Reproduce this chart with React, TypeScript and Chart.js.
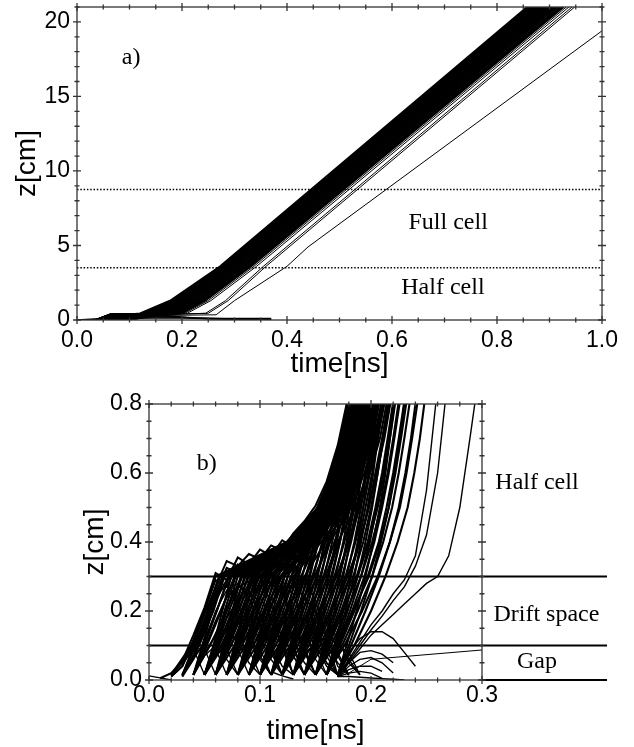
import { useEffect, useRef } from 'react';
import { Chart, registerables } from 'chart.js';

Chart.register(...registerables);

// ================= panel a) =================
const topXRange = [0, 1];
const topYRange = [0, 21];
const topXMajor = [0, 0.2, 0.4, 0.6, 0.8, 1.0];
const topYMajor = [0, 5, 10, 15, 20];
const topXMinorStep = 0.05;
const topYMinorStep = 1;

// dotted cell boundaries (z in cm)
const topCellBoundaries = [3.5, 8.75];

// shared launch phase: sample times, plateau height per trajectory
const topLaunchTimes = [0, 0.035, 0.065, 0.11];
const topPlateau = [
  0.42, 0.3, 0.2, 0.38, 0.1, 0.34, 0.25, 0.4, 0.15, 0.32, 0.05, 0.36, 0.22, 0.28, 0.4,
  0.12, 0.35, 0.18, 0.3, 0.08, 0.38, 0.26, 0.33, 0.15, 0.4, 0.22, 0.3, 0.35, 0.3, 0.32,
];
// each trajectory: time [ns] at which it reaches the z levels below
const topZLevels = [0.45, 1.3, 3.6, 21];
const topBandTimes = [
  [0.12, 0.177, 0.272, 0.857],
  [0.124, 0.18, 0.274, 0.86],
  [0.128, 0.183, 0.276, 0.862],
  [0.131, 0.185, 0.278, 0.865],
  [0.135, 0.188, 0.28, 0.867],
  [0.138, 0.19, 0.282, 0.87],
  [0.142, 0.193, 0.284, 0.872],
  [0.145, 0.196, 0.286, 0.875],
  [0.148, 0.198, 0.289, 0.877],
  [0.152, 0.201, 0.291, 0.88],
  [0.155, 0.204, 0.293, 0.883],
  [0.158, 0.206, 0.295, 0.885],
  [0.161, 0.209, 0.298, 0.888],
  [0.164, 0.212, 0.3, 0.891],
  [0.167, 0.214, 0.302, 0.893],
  [0.17, 0.217, 0.305, 0.896],
  [0.173, 0.22, 0.307, 0.899],
  [0.176, 0.223, 0.31, 0.902],
  [0.179, 0.226, 0.313, 0.905],
  [0.182, 0.229, 0.316, 0.908],
  [0.185, 0.232, 0.318, 0.911],
  [0.188, 0.235, 0.321, 0.914],
  [0.191, 0.238, 0.324, 0.918],
  [0.194, 0.24, 0.327, 0.921],
  [0.197, 0.243, 0.33, 0.924],
  [0.2, 0.245, 0.332, 0.927],
];
const topOutlierTimes = [
  [0.205, 0.25, 0.337, 0.932],
  [0.21, 0.255, 0.342, 0.937],
  [0.245, 0.283, 0.355, 0.943],
  [0.25, 0.288, 0.36, 0.948],
];
const topSlowLine = [
  [0, 0], [0.035, 0], [0.065, 0.3], [0.2, 0.32], [0.265, 0.35], [0.3, 1.3], [0.4, 3.6], [0.44, 4.9], [1.0, 19.4],
];
const topLostLines = [
  [[0, 0], [0.035, 0], [0.065, 0.25], [0.17, 0.3], [0.22, 0.12], [0.3, 0.06], [0.37, 0.04]],
  [[0, 0], [0.04, 0], [0.07, 0.2], [0.19, 0.22], [0.25, 0.08], [0.37, 0.0]],
  [[0, 0], [0.05, 0.1], [0.2, 0.15], [0.28, 0.1], [0.37, 0.1]],
];
const topAnnotations = [
  { text: 'a)', x: 0.103, y: 17.6 },
  { text: 'Full cell', x: 0.707, y: 6.5 },
  { text: 'Half cell', x: 0.697, y: 2.2 },
];

// ================= panel b) =================
const botXRange = [0, 0.3];
const botYRange = [0, 0.8];
const botXMajor = [0, 0.1, 0.2, 0.3];
const botYMajor = [0, 0.2, 0.4, 0.6, 0.8];
const botXMinorStep = 0.02;
const botYMinorStep = 0.05;

// horizontal region boundaries (z in cm) and where they end on the time axis
const botRegionBoundaries = [0.1, 0.3];
const botBoundaryEnd = 0.4126;

// escaping trajectories: time [ns] at which each one reaches the z levels below
const botZLevels = [0.015, 0.1, 0.2, 0.3, 0.4, 0.5, 0.6, 0.7, 0.85];
const botLevelTimes = [
  [0.02, 0.038, 0.05, 0.06, 0.124, 0.152, 0.165, 0.174, 0.183],
  [0.02, 0.041, 0.053, 0.063, 0.127, 0.155, 0.168, 0.177, 0.186],
  [0.02, 0.044, 0.056, 0.066, 0.13, 0.158, 0.171, 0.18, 0.189],
  [0.03, 0.042, 0.054, 0.064, 0.126, 0.154, 0.167, 0.176, 0.185],
  [0.03, 0.045, 0.058, 0.068, 0.129, 0.157, 0.17, 0.179, 0.188],
  [0.03, 0.048, 0.061, 0.072, 0.133, 0.161, 0.174, 0.183, 0.192],
  [0.04, 0.048, 0.057, 0.067, 0.125, 0.153, 0.166, 0.175, 0.184],
  [0.04, 0.05, 0.061, 0.072, 0.128, 0.156, 0.169, 0.178, 0.187],
  [0.04, 0.052, 0.065, 0.077, 0.132, 0.16, 0.173, 0.182, 0.191],
  [0.04, 0.055, 0.07, 0.083, 0.136, 0.164, 0.177, 0.186, 0.195],
  [0.05, 0.058, 0.066, 0.074, 0.126, 0.154, 0.167, 0.176, 0.185],
  [0.05, 0.06, 0.07, 0.08, 0.13, 0.158, 0.171, 0.18, 0.189],
  [0.05, 0.062, 0.075, 0.087, 0.134, 0.162, 0.175, 0.184, 0.193],
  [0.05, 0.065, 0.08, 0.094, 0.138, 0.166, 0.179, 0.188, 0.197],
  [0.06, 0.067, 0.075, 0.083, 0.127, 0.154, 0.167, 0.176, 0.185],
  [0.06, 0.069, 0.079, 0.089, 0.131, 0.158, 0.171, 0.18, 0.189],
  [0.06, 0.071, 0.083, 0.095, 0.135, 0.162, 0.175, 0.184, 0.193],
  [0.06, 0.074, 0.088, 0.102, 0.14, 0.166, 0.179, 0.188, 0.197],
  [0.07, 0.077, 0.085, 0.093, 0.128, 0.155, 0.168, 0.177, 0.186],
  [0.07, 0.079, 0.089, 0.099, 0.132, 0.159, 0.172, 0.181, 0.19],
  [0.07, 0.081, 0.093, 0.105, 0.137, 0.163, 0.176, 0.185, 0.194],
  [0.07, 0.084, 0.098, 0.112, 0.142, 0.167, 0.18, 0.189, 0.198],
  [0.08, 0.087, 0.095, 0.103, 0.129, 0.156, 0.169, 0.178, 0.187],
  [0.08, 0.089, 0.099, 0.109, 0.134, 0.16, 0.173, 0.182, 0.191],
  [0.08, 0.091, 0.103, 0.115, 0.139, 0.164, 0.177, 0.186, 0.195],
  [0.08, 0.094, 0.108, 0.122, 0.145, 0.168, 0.181, 0.19, 0.199],
  [0.09, 0.097, 0.105, 0.113, 0.131, 0.157, 0.17, 0.179, 0.188],
  [0.09, 0.099, 0.109, 0.119, 0.136, 0.161, 0.174, 0.183, 0.192],
  [0.09, 0.101, 0.113, 0.125, 0.142, 0.165, 0.178, 0.187, 0.196],
  [0.09, 0.104, 0.118, 0.132, 0.148, 0.17, 0.182, 0.191, 0.2],
  [0.1, 0.107, 0.115, 0.122, 0.133, 0.158, 0.171, 0.18, 0.189],
  [0.1, 0.109, 0.119, 0.128, 0.139, 0.162, 0.175, 0.184, 0.193],
  [0.1, 0.111, 0.123, 0.134, 0.145, 0.167, 0.179, 0.188, 0.197],
  [0.1, 0.114, 0.128, 0.141, 0.153, 0.172, 0.184, 0.193, 0.202],
  [0.11, 0.117, 0.125, 0.132, 0.139, 0.16, 0.172, 0.181, 0.19],
  [0.11, 0.119, 0.129, 0.138, 0.146, 0.165, 0.177, 0.186, 0.195],
  [0.11, 0.121, 0.133, 0.144, 0.153, 0.17, 0.181, 0.19, 0.199],
  [0.11, 0.124, 0.138, 0.151, 0.161, 0.176, 0.187, 0.196, 0.205],
  [0.12, 0.127, 0.135, 0.142, 0.149, 0.162, 0.174, 0.183, 0.192],
  [0.12, 0.129, 0.139, 0.148, 0.156, 0.168, 0.179, 0.188, 0.197],
  [0.12, 0.131, 0.143, 0.154, 0.163, 0.174, 0.184, 0.193, 0.202],
  [0.12, 0.134, 0.148, 0.161, 0.171, 0.181, 0.19, 0.199, 0.208],
  [0.13, 0.137, 0.145, 0.152, 0.158, 0.165, 0.176, 0.185, 0.194],
  [0.13, 0.139, 0.149, 0.158, 0.165, 0.172, 0.182, 0.191, 0.2],
  [0.13, 0.141, 0.153, 0.164, 0.172, 0.179, 0.188, 0.197, 0.206],
  [0.13, 0.144, 0.158, 0.171, 0.18, 0.188, 0.196, 0.204, 0.213],
  [0.14, 0.147, 0.155, 0.162, 0.168, 0.173, 0.179, 0.187, 0.196],
  [0.14, 0.149, 0.159, 0.168, 0.175, 0.181, 0.187, 0.194, 0.203],
  [0.14, 0.151, 0.163, 0.174, 0.182, 0.189, 0.195, 0.201, 0.21],
  [0.14, 0.154, 0.168, 0.181, 0.19, 0.198, 0.204, 0.21, 0.218],
  [0.15, 0.157, 0.165, 0.172, 0.178, 0.183, 0.188, 0.192, 0.199],
  [0.15, 0.159, 0.169, 0.178, 0.185, 0.191, 0.196, 0.201, 0.208],
  [0.15, 0.161, 0.173, 0.184, 0.193, 0.2, 0.206, 0.211, 0.218],
  [0.15, 0.164, 0.178, 0.191, 0.201, 0.209, 0.215, 0.22, 0.227],
  [0.16, 0.167, 0.175, 0.182, 0.188, 0.193, 0.198, 0.202, 0.209],
  [0.16, 0.169, 0.179, 0.188, 0.195, 0.201, 0.206, 0.211, 0.218],
  [0.16, 0.171, 0.183, 0.194, 0.203, 0.21, 0.216, 0.221, 0.228],
  [0.16, 0.174, 0.188, 0.201, 0.211, 0.219, 0.225, 0.23, 0.237],
  [0.17, 0.178, 0.187, 0.195, 0.202, 0.208, 0.213, 0.217, 0.223],
  [0.17, 0.18, 0.191, 0.201, 0.209, 0.216, 0.221, 0.226, 0.232],
  [0.17, 0.182, 0.195, 0.207, 0.217, 0.225, 0.231, 0.236, 0.242],
  [0.17, 0.185, 0.2, 0.213, 0.224, 0.233, 0.239, 0.244, 0.25],
  // second, more spread family
  [0.05, 0.059, 0.068, 0.078, 0.128, 0.156, 0.169, 0.178, 0.187],
  [0.05, 0.063, 0.077, 0.09, 0.14, 0.168, 0.181, 0.19, 0.199],
  [0.05, 0.061, 0.072, 0.084, 0.133, 0.16, 0.173, 0.182, 0.191],
  [0.05, 0.067, 0.084, 0.1, 0.145, 0.172, 0.185, 0.194, 0.203],
  [0.06, 0.068, 0.077, 0.086, 0.129, 0.157, 0.17, 0.179, 0.188],
  [0.06, 0.072, 0.085, 0.098, 0.141, 0.169, 0.182, 0.191, 0.2],
  [0.06, 0.07, 0.081, 0.092, 0.135, 0.162, 0.175, 0.184, 0.193],
  [0.06, 0.077, 0.094, 0.11, 0.148, 0.174, 0.187, 0.196, 0.205],
  [0.07, 0.078, 0.087, 0.096, 0.13, 0.158, 0.171, 0.18, 0.189],
  [0.07, 0.082, 0.095, 0.108, 0.143, 0.17, 0.183, 0.192, 0.201],
  [0.07, 0.08, 0.091, 0.102, 0.136, 0.164, 0.177, 0.186, 0.195],
  [0.07, 0.087, 0.104, 0.12, 0.151, 0.176, 0.189, 0.198, 0.207],
  [0.08, 0.088, 0.097, 0.106, 0.132, 0.159, 0.172, 0.181, 0.19],
  [0.08, 0.092, 0.105, 0.118, 0.146, 0.171, 0.184, 0.193, 0.202],
  [0.08, 0.09, 0.101, 0.112, 0.139, 0.165, 0.178, 0.187, 0.196],
  [0.08, 0.097, 0.114, 0.13, 0.155, 0.178, 0.19, 0.199, 0.208],
  [0.09, 0.098, 0.107, 0.116, 0.134, 0.16, 0.173, 0.182, 0.191],
  [0.09, 0.102, 0.115, 0.128, 0.149, 0.172, 0.185, 0.194, 0.203],
  [0.09, 0.1, 0.111, 0.122, 0.141, 0.166, 0.179, 0.188, 0.197],
  [0.09, 0.107, 0.124, 0.14, 0.159, 0.18, 0.192, 0.201, 0.21],
  [0.1, 0.108, 0.117, 0.125, 0.136, 0.161, 0.174, 0.183, 0.192],
  [0.1, 0.112, 0.125, 0.137, 0.151, 0.173, 0.186, 0.195, 0.204],
  [0.1, 0.11, 0.121, 0.131, 0.143, 0.167, 0.18, 0.189, 0.198],
  [0.1, 0.117, 0.134, 0.149, 0.163, 0.182, 0.194, 0.203, 0.212],
  [0.11, 0.118, 0.127, 0.135, 0.143, 0.163, 0.175, 0.184, 0.193],
  [0.11, 0.122, 0.135, 0.147, 0.157, 0.175, 0.187, 0.196, 0.205],
  [0.11, 0.12, 0.131, 0.141, 0.15, 0.168, 0.18, 0.189, 0.198],
  [0.11, 0.127, 0.144, 0.159, 0.17, 0.186, 0.197, 0.206, 0.215],
  [0.12, 0.128, 0.137, 0.145, 0.152, 0.165, 0.177, 0.186, 0.195],
  [0.12, 0.132, 0.145, 0.157, 0.167, 0.178, 0.188, 0.197, 0.206],
  [0.12, 0.13, 0.141, 0.151, 0.159, 0.171, 0.182, 0.191, 0.2],
  [0.12, 0.137, 0.154, 0.169, 0.18, 0.19, 0.199, 0.208, 0.217],
  [0.13, 0.138, 0.147, 0.155, 0.162, 0.169, 0.179, 0.188, 0.197],
  [0.13, 0.142, 0.155, 0.167, 0.176, 0.184, 0.192, 0.2, 0.209],
  [0.13, 0.14, 0.151, 0.161, 0.169, 0.176, 0.185, 0.194, 0.203],
  [0.13, 0.147, 0.164, 0.179, 0.19, 0.198, 0.205, 0.212, 0.22],
  [0.14, 0.148, 0.157, 0.165, 0.172, 0.177, 0.183, 0.19, 0.199],
  [0.14, 0.152, 0.165, 0.177, 0.186, 0.193, 0.199, 0.205, 0.213],
  [0.14, 0.15, 0.161, 0.171, 0.179, 0.185, 0.191, 0.198, 0.206],
  [0.14, 0.157, 0.174, 0.188, 0.198, 0.206, 0.212, 0.217, 0.224],
  [0.15, 0.158, 0.167, 0.175, 0.181, 0.187, 0.192, 0.196, 0.203],
  [0.15, 0.162, 0.175, 0.187, 0.197, 0.204, 0.21, 0.215, 0.222],
  [0.15, 0.16, 0.171, 0.181, 0.189, 0.195, 0.201, 0.206, 0.213],
  [0.15, 0.167, 0.184, 0.198, 0.208, 0.216, 0.222, 0.227, 0.234],
  [0.16, 0.168, 0.177, 0.185, 0.191, 0.197, 0.202, 0.206, 0.213],
  [0.16, 0.172, 0.185, 0.197, 0.207, 0.214, 0.22, 0.225, 0.232],
  [0.16, 0.17, 0.181, 0.191, 0.199, 0.205, 0.211, 0.216, 0.223],
  [0.16, 0.176, 0.192, 0.206, 0.217, 0.226, 0.232, 0.237, 0.244],
];

// envelope trajectories sampled every 0.01 ns from botEnvStart
const botSampleStep = 0.01;
const botEnvStart = [0.01, 0.02, 0.02, 0.03, 0.03, 0.04, 0.05];
const botEnvZ = [
  [0.005, 0.02, 0.055, 0.13, 0.21, 0.31, 0.29, 0.355, 0.335, 0.378, 0.36, 0.405, 0.385, 0.44, 0.49, 0.565, 0.67, 0.82],
  [0.01, 0.04, 0.11, 0.19, 0.27, 0.345, 0.33, 0.365, 0.35, 0.39, 0.375, 0.425, 0.46, 0.505, 0.575, 0.68, 0.83],
  [0.01, 0.04, 0.11, 0.2, 0.29, 0.27, 0.335, 0.315, 0.358, 0.34, 0.385, 0.365, 0.42, 0.47, 0.545, 0.65, 0.8, 0.97],
  [0.01, 0.07, 0.16, 0.25, 0.325, 0.31, 0.345, 0.33, 0.37, 0.355, 0.405, 0.44, 0.485, 0.555, 0.66, 0.81],
  [0.01, 0.06, 0.14, 0.23, 0.29, 0.31, 0.3, 0.33, 0.32, 0.35, 0.34, 0.385, 0.43, 0.5, 0.6, 0.76, 0.93],
  [0.015, 0.09, 0.17, 0.24, 0.27, 0.285, 0.3, 0.31, 0.32, 0.34, 0.37, 0.41, 0.47, 0.56, 0.7, 0.87],
  [0.015, 0.1, 0.18, 0.23, 0.25, 0.27, 0.285, 0.3, 0.32, 0.35, 0.39, 0.45, 0.54, 0.68, 0.85],
];

// returning (gap) and late trajectories sampled every 0.01 ns from botTrackStart
const botTrackStart = [
  0.0, 0.17, 0.17, 0.17,
  0.17, 0.17, 0.17, 0.17, 0.17, 0.17, 0.11,
  0.06, 0.08, 0.09, 0.11,
  0.03, 0.04, 0.05, 0.06, 0.07, 0.08, 0.09, 0.1, 0.11, 0.12, 0.13, 0.14, 0.15,
  0.04, 0.07, 0.1, 0.13,
  0.03, 0.04, 0.05, 0.06, 0.07, 0.08, 0.09, 0.1, 0.11, 0.12, 0.13,
  0.04, 0.05, 0.06, 0.07, 0.08, 0.09, 0.1, 0.11, 0.12, 0.13, 0.14, 0.15,
];
const botTrackZ = [
  [0.012, 0.006, 0.0],
  [0.01, 0.06, 0.11, 0.16, 0.2, 0.25, 0.29, 0.36, 0.55, 0.85],
  [0.01, 0.055, 0.1, 0.145, 0.185, 0.23, 0.27, 0.33, 0.42, 0.6, 0.9],
  [0.01, 0.05, 0.09, 0.13, 0.16, 0.19, 0.22, 0.25, 0.28, 0.3, 0.36, 0.5, 0.72, 0.95],
  [0.01, 0.08, 0.12, 0.14, 0.14, 0.12, 0.08, 0.04],
  [0.01, 0.05, 0.08, 0.085, 0.075, 0.05],
  [0.01, 0.04, 0.06, 0.065, 0.05, 0.02],
  [0.01, 0.03, 0.04, 0.04, 0.025],
  [0.01, 0.02, 0.025, 0.02, 0.005],
  [0.01, 0.01, 0.008, 0.006, 0.004, 0.002, 0.0],
  [0.024, 0.012, 0.003],
  [0.015, 0.12, 0.22, 0.28, 0.3, 0.22, 0.12, 0.015],
  [0.015, 0.1, 0.18, 0.24, 0.2, 0.1, 0.015],
  [0.015, 0.13, 0.22, 0.27, 0.25, 0.16, 0.06, 0.015],
  [0.015, 0.1, 0.16, 0.18, 0.12, 0.05, 0.015],
  [0.015, 0.09, 0.015],
  [0.015, 0.09, 0.015],
  [0.015, 0.09, 0.015],
  [0.015, 0.09, 0.015],
  [0.015, 0.09, 0.015],
  [0.015, 0.09, 0.015],
  [0.015, 0.09, 0.015],
  [0.015, 0.09, 0.015],
  [0.015, 0.09, 0.015],
  [0.015, 0.09, 0.015],
  [0.015, 0.09, 0.015],
  [0.015, 0.09, 0.015],
  [0.015, 0.09, 0.015],
  [0.015, 0.07, 0.1, 0.06, 0.015],
  [0.015, 0.08, 0.11, 0.07, 0.015],
  [0.015, 0.07, 0.1, 0.07, 0.015],
  [0.015, 0.08, 0.1, 0.05, 0.015],
  [0.015, 0.1, 0.19, 0.25, 0.27, 0.22, 0.14, 0.06, 0.015],
  [0.015, 0.11, 0.2, 0.26, 0.28, 0.24, 0.16, 0.08, 0.015],
  [0.015, 0.12, 0.21, 0.27, 0.26, 0.19, 0.1, 0.015],
  [0.015, 0.1, 0.18, 0.23, 0.24, 0.18, 0.1, 0.015],
  [0.015, 0.11, 0.2, 0.27, 0.3, 0.26, 0.18, 0.09, 0.015],
  [0.015, 0.12, 0.22, 0.28, 0.25, 0.17, 0.08, 0.015],
  [0.015, 0.1, 0.19, 0.25, 0.28, 0.24, 0.15, 0.07, 0.015],
  [0.015, 0.11, 0.21, 0.28, 0.3, 0.23, 0.13, 0.04, 0.015],
  [0.015, 0.12, 0.2, 0.24, 0.2, 0.12, 0.015],
  [0.015, 0.1, 0.18, 0.22, 0.17, 0.08, 0.015],
  [0.015, 0.09, 0.15, 0.17, 0.12, 0.05, 0.015],
  [0.015, 0.08, 0.13, 0.15, 0.11, 0.05, 0.015],
  [0.015, 0.09, 0.15, 0.17, 0.13, 0.07, 0.015],
  [0.015, 0.08, 0.14, 0.16, 0.12, 0.06, 0.015],
  [0.015, 0.09, 0.14, 0.15, 0.1, 0.04, 0.015],
  [0.015, 0.08, 0.13, 0.16, 0.13, 0.07, 0.015],
  [0.015, 0.09, 0.15, 0.17, 0.12, 0.05, 0.015],
  [0.015, 0.08, 0.13, 0.14, 0.09, 0.015],
  [0.015, 0.09, 0.14, 0.15, 0.1, 0.04, 0.015],
  [0.015, 0.08, 0.13, 0.14, 0.1, 0.05, 0.015],
  [0.015, 0.07, 0.11, 0.12, 0.07, 0.015],
  [0.015, 0.08, 0.12, 0.11, 0.06, 0.015],
  [0.015, 0.07, 0.1, 0.08, 0.015],
];
const botStraightTrack = [[0.18, 0.02], [0.2, 0.06], [0.3, 0.087]];
const botAnnotations = [
  { text: 'b)', x: 0.052, y: 0.626 },
  { text: 'Half cell', x: 0.3495, y: 0.571 },
  { text: 'Drift space', x: 0.358, y: 0.19 },
  { text: 'Gap', x: 0.3495, y: 0.052 },
];

// ================= helpers =================
const SANS = "'Liberation Sans', Arial, sans-serif";
const SERIF = "'Liberation Serif', 'Times New Roman', serif";

function makeTicks(min: number, max: number, step: number) {
  const out: number[] = [];
  const n = Math.round((max - min) / step);
  for (let i = 0; i <= n; i++) out.push(+(min + i * step).toFixed(6));
  return out;
}
function isMajor(v: number, majors: number[]) {
  return majors.some((m) => Math.abs(m - v) < 1e-6);
}

function axisCfg(o: {
  range: number[]; step: number; majors: number[]; decimals: number; isX: boolean;
  size: number; title: string; titlePad: number; tickPad: number;
}) {
  return {
    type: 'linear',
    min: o.range[0],
    max: o.range[1],
    afterBuildTicks: (s: any) => {
      s.ticks = makeTicks(o.range[0], o.range[1], o.step).map((v) => ({ value: v }));
    },
    afterFit: (s: any) => {
      if (o.isX) s.height = o.size; else s.width = o.size;
      s.paddingTop = 0; s.paddingBottom = 0; s.paddingLeft = 0; s.paddingRight = 0;
    },
    grid: { display: false, drawTicks: false },
    border: { display: false },
    ticks: {
      autoSkip: false, maxRotation: 0, minRotation: 0, padding: o.tickPad, color: '#000',
      font: { family: SANS, size: 23, lineHeight: 1 },
      callback: (v: any) => (isMajor(Number(v), o.majors) ? Number(v).toFixed(o.decimals) : ''),
    },
    title: {
      display: true, text: o.title, color: '#000',
      font: { family: SANS, size: 28, lineHeight: 1 },
      padding: o.isX ? { top: 0, bottom: o.titlePad } : { top: o.titlePad, bottom: 0 },
    },
  };
}

function framePlugin(xMajor: number[], yMajor: number[], notes: { text: string; x: number; y: number }[]) {
  return {
    id: 'frameTicks',
    afterDatasetsDraw(chart: any) {
      const { ctx, chartArea: a } = chart;
      const xs = chart.scales.x;
      const ys = chart.scales.y;
      ctx.save();
      ctx.strokeStyle = '#333';
      ctx.lineWidth = 1.3;
      ctx.strokeRect(a.left, a.top, a.right - a.left, a.bottom - a.top);
      ctx.beginPath();
      xs.ticks.forEach((t: any) => {
        const px = xs.getPixelForValue(t.value);
        const L = isMajor(t.value, xMajor) ? 4 : 2.5;
        ctx.moveTo(px, a.bottom - L); ctx.lineTo(px, a.bottom + L);
        ctx.moveTo(px, a.top - L); ctx.lineTo(px, a.top + L);
      });
      ys.ticks.forEach((t: any) => {
        const py = ys.getPixelForValue(t.value);
        const L = isMajor(t.value, yMajor) ? 4 : 2.5;
        ctx.moveTo(a.left - L, py); ctx.lineTo(a.left + L, py);
        ctx.moveTo(a.right - L, py); ctx.lineTo(a.right + L, py);
      });
      ctx.stroke();
      ctx.restore();
    },
    afterDraw(chart: any) {
      const { ctx } = chart;
      const xs = chart.scales.x;
      const ys = chart.scales.y;
      ctx.save();
      ctx.fillStyle = '#000';
      ctx.font = `24px ${SERIF}`;
      ctx.textAlign = 'center';
      ctx.textBaseline = 'middle';
      notes.forEach((n) => ctx.fillText(n.text, xs.getPixelForValue(n.x), ys.getPixelForValue(n.y)));
      ctx.restore();
    },
  };
}

const lineDs = (pts: number[][], extra: any = {}) => ({
  data: pts.map(([x, y]) => ({ x, y })),
  borderColor: '#000',
  borderWidth: 1,
  pointRadius: 0,
  tension: 0,
  fill: false,
  ...extra,
});

function buildTopDatasets() {
  const ds: any[] = [];
  const addLevelLine = (times: number[], i: number, width: number) => {
    const p = topPlateau[i % topPlateau.length];
    const pts = topLaunchTimes.map((t, j) => [t, j < 2 ? 0 : p]);
    times.forEach((t, j) => pts.push([t, topZLevels[j]]));
    ds.push(lineDs(pts, { borderWidth: width }));
  };
  topBandTimes.forEach((times, i) => addLevelLine(times, i, 1.7));
  topOutlierTimes.forEach((times, i) => addLevelLine(times, i + topBandTimes.length, 1));
  ds.push(lineDs(topSlowLine));
  topLostLines.forEach((l) => ds.push(lineDs(l, { borderWidth: 1.5 })));
  topCellBoundaries.forEach((z) =>
    ds.push(lineDs([[topXRange[0], z], [topXRange[1], z]], { borderWidth: 1.5, borderDash: [1.5, 1.8] }))
  );
  return ds;
}

function sampled(t0: number, zs: number[]) {
  return zs.map((z, j) => [+(t0 + j * botSampleStep).toFixed(4), z]);
}

function buildBotDatasets() {
  const ds: any[] = [];
  botLevelTimes.forEach((times) => ds.push(lineDs(times.map((t, j) => [t, botZLevels[j]]), { borderWidth: 2.1 })));
  botEnvZ.forEach((zs, i) => ds.push(lineDs(sampled(botEnvStart[i], zs), { borderWidth: 2 })));
  botTrackZ.forEach((zs, i) => ds.push(lineDs(sampled(botTrackStart[i], zs), { borderWidth: 1.4 })));
  ds.push(lineDs(botStraightTrack));
  botRegionBoundaries.forEach((z) =>
    ds.push(lineDs([[botXRange[0], z], [botBoundaryEnd, z]], { borderWidth: 2, clip: false }))
  );
  ds.push(lineDs([[botXRange[1], 0], [botBoundaryEnd, 0]], { borderWidth: 2, clip: false }));
  return ds;
}

export default function App() {
  const topRef = useRef<HTMLCanvasElement>(null);
  const botRef = useRef<HTMLCanvasElement>(null);

  useEffect(() => {
    const common = {
      animation: false,
      responsive: false,
      events: [],
      plugins: { legend: { display: false }, tooltip: { enabled: false } },
    };
    const top = new Chart(topRef.current!, {
      type: 'line',
      data: { datasets: buildTopDatasets() },
      options: {
        ...common,
        layout: { padding: { left: 0, top: 7, right: 32, bottom: 0 } },
        scales: {
          x: axisCfg({ range: topXRange, step: topXMinorStep, majors: topXMajor, decimals: 1, isX: true, size: 60, title: 'time[ns]', titlePad: 2, tickPad: 9 }),
          y: axisCfg({ range: topYRange, step: topYMinorStep, majors: topYMajor, decimals: 0, isX: false, size: 77, title: 'z[cm]', titlePad: 13, tickPad: 7 }),
        },
      } as any,
      plugins: [framePlugin(topXMajor, topYMajor, topAnnotations)],
    });
    const bot = new Chart(botRef.current!, {
      type: 'line',
      data: { datasets: buildBotDatasets() },
      options: {
        ...common,
        layout: { padding: { left: 67, top: 24, right: 152, bottom: 0 } },
        scales: {
          x: axisCfg({ range: botXRange, step: botXMinorStep, majors: botXMajor, decimals: 1, isX: true, size: 67, title: 'time[ns]', titlePad: 2, tickPad: 4.5 }),
          y: axisCfg({ range: botYRange, step: botYMinorStep, majors: botYMajor, decimals: 1, isX: false, size: 82, title: 'z[cm]', titlePad: 14, tickPad: 7 }),
        },
      } as any,
      plugins: [framePlugin(botXMajor, botYMajor, botAnnotations)],
    });
    return () => {
      top.destroy();
      bot.destroy();
    };
  }, []);

  return (
    <div style={{ position: 'fixed', left: 0, top: 0, width: 634, height: 747, background: '#fff' }}>
      <canvas ref={topRef} width={634} height={380} style={{ position: 'absolute', left: 0, top: 0 }} />
      <canvas ref={botRef} width={634} height={367} style={{ position: 'absolute', left: 0, top: 380 }} />
    </div>
  );
}
